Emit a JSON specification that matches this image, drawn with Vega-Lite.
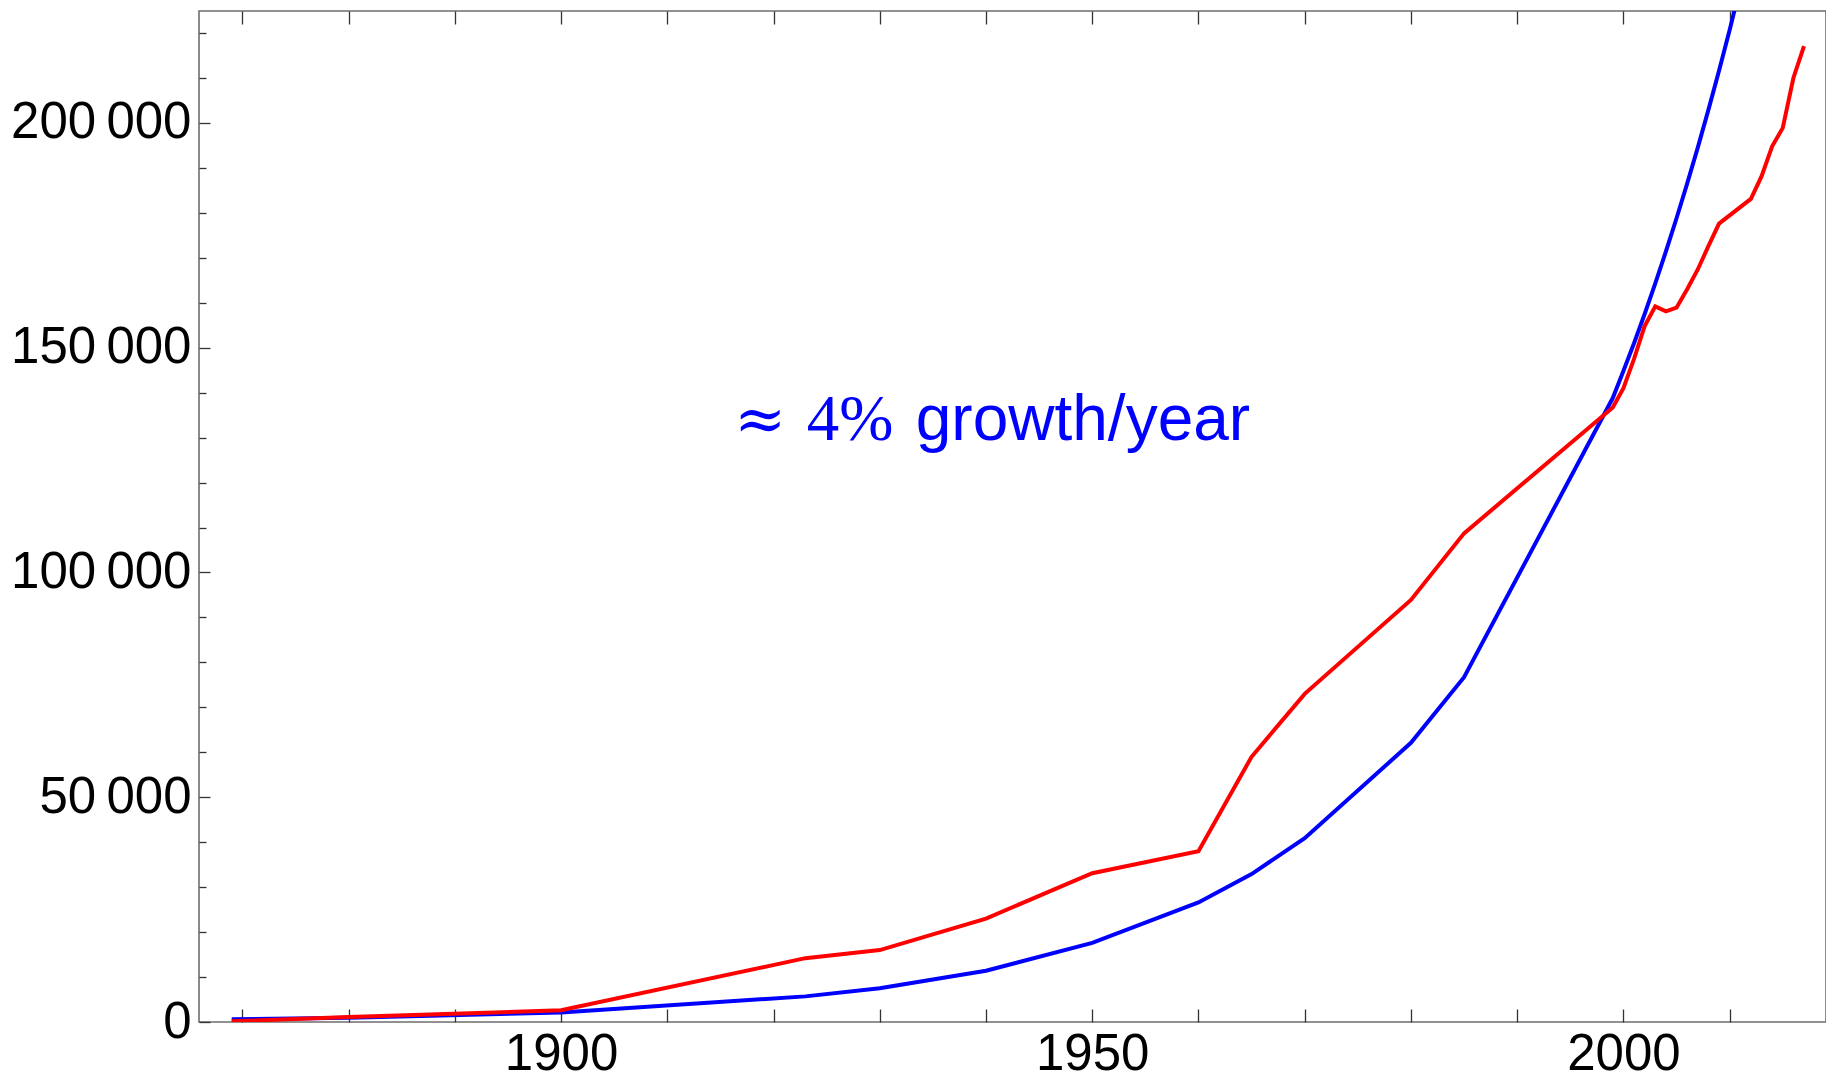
{
  "$schema": "https://vega.github.io/schema/vega-lite/v6.json",
  "width": 1627,
  "height": 1011,
  "autosize": "none",
  "padding": {"left": 199, "top": 11, "right": 0, "bottom": 58},
  "background": "white",
  "config": {
    "view": {"stroke": "#6e6e6e", "strokeWidth": 1.6},
    "axis": {"domain": false, "grid": false, "labelFont": "Liberation Sans", "labelFontSize": 51, "labelColor": "#000000", "labelLimit": 0, "tickColor": "#333333", "tickWidth": 1.3, "title": null}
  },
  "datasets": {
    "fit": [
      {"year": 1869, "value": 600},
      {"year": 1880, "value": 950},
      {"year": 1900, "value": 2100},
      {"year": 1923, "value": 5700},
      {"year": 1930, "value": 7500},
      {"year": 1940, "value": 11400},
      {"year": 1950, "value": 17600},
      {"year": 1960, "value": 26600},
      {"year": 1965, "value": 32900},
      {"year": 1970, "value": 40900},
      {"year": 1980, "value": 62100},
      {"year": 1985, "value": 76700},
      {"year": 1999, "value": 138800},
      {"year": 2000, "value": 144800},
      {"year": 2001, "value": 151000},
      {"year": 2002, "value": 157500},
      {"year": 2003, "value": 164300},
      {"year": 2004, "value": 171400},
      {"year": 2005, "value": 178800},
      {"year": 2006, "value": 186500},
      {"year": 2007, "value": 194500},
      {"year": 2008, "value": 202900},
      {"year": 2009, "value": 211600},
      {"year": 2010, "value": 220700},
      {"year": 2011, "value": 230200}
    ],
    "data": [
      {"year": 1869, "value": 150},
      {"year": 1880, "value": 1100},
      {"year": 1900, "value": 2600},
      {"year": 1923, "value": 14200},
      {"year": 1930, "value": 16000},
      {"year": 1940, "value": 23000},
      {"year": 1950, "value": 33100},
      {"year": 1960, "value": 38000},
      {"year": 1965, "value": 59000},
      {"year": 1970, "value": 73000},
      {"year": 1980, "value": 93900},
      {"year": 1985, "value": 108700},
      {"year": 1999, "value": 136700},
      {"year": 2000, "value": 141000},
      {"year": 2001, "value": 147500},
      {"year": 2002, "value": 154800},
      {"year": 2003, "value": 159200},
      {"year": 2004, "value": 158100},
      {"year": 2005, "value": 158900},
      {"year": 2006, "value": 163000},
      {"year": 2007, "value": 167400},
      {"year": 2008, "value": 172600},
      {"year": 2009, "value": 177600},
      {"year": 2012, "value": 183100},
      {"year": 2013, "value": 188100},
      {"year": 2014, "value": 194800},
      {"year": 2015, "value": 198900},
      {"year": 2016, "value": 210000},
      {"year": 2017, "value": 217100}
    ]
  },
  "resolve": {"axis": {"x": "independent"}},
  "layer": [
    {
      "data": {"name": "fit"},
      "mark": {"type": "line", "color": "#0000ff", "strokeWidth": 4, "clip": true},
      "encoding": {
        "x": {
          "field": "year", "type": "quantitative",
          "scale": {"domain": [1865.92, 2019.07], "nice": false, "zero": false},
          "axis": {"orient": "bottom", "values": [1870, 1880, 1890, 1900, 1910, 1920, 1930, 1940, 1950, 1960, 1970, 1980, 1990, 2000, 2010], "tickSize": -13, "format": "d", "labelExpr": "datum.value % 50 === 0 ? datum.label : ''", "labelPadding": 20, "labelFlush": false, "labelOverlap": false}
        },
        "y": {
          "field": "value", "type": "quantitative",
          "scale": {"domain": [0, 224900], "nice": false},
          "axis": {"values": [0, 10000, 20000, 30000, 40000, 50000, 60000, 70000, 80000, 90000, 100000, 110000, 120000, 130000, 140000, 150000, 160000, 170000, 180000, 190000, 200000, 210000, 220000], "tickSize": {"condition": {"test": "datum.value % 50000 === 0", "value": -11}, "value": -7}, "labelExpr": "datum.value % 50000 === 0 ? replace(format(datum.value, ',d'), ',', '\u202f') : ''", "labelPadding": 19, "labelFlush": false, "labelOverlap": false}
        }
      }
    },
    {
      "data": {"name": "data"},
      "mark": {"type": "line", "color": "#ff0000", "strokeWidth": 4, "clip": true},
      "encoding": {
        "x": {"field": "year", "type": "quantitative", "axis": {"orient": "top", "values": [1870, 1880, 1890, 1900, 1910, 1920, 1930, 1940, 1950, 1960, 1970, 1980, 1990, 2000, 2010], "tickSize": -13, "labels": false}},
        "y": {"field": "value", "type": "quantitative"}
      }
    },
    {
      "data": {"values": [{}]},
      "mark": {"type": "text", "text": "≈", "font": "DejaVu Serif", "fontSize": 62, "color": "#0000ff", "align": "left", "baseline": "alphabetic"},
      "encoding": {
        "x": {"datum": 1916.3, "type": "quantitative", "axis": null},
        "y": {"datum": 129500, "type": "quantitative"}
      }
    },
    {
      "data": {"values": [{}]},
      "mark": {"type": "text", "text": "4%", "font": "Liberation Serif", "fontSize": 65, "color": "#0000ff", "align": "left", "baseline": "alphabetic"},
      "encoding": {
        "x": {"datum": 1923.13, "type": "quantitative", "axis": null},
        "y": {"datum": 129500, "type": "quantitative"}
      }
    },
    {
      "data": {"values": [{}]},
      "mark": {"type": "text", "text": "growth/year", "font": "Liberation Sans", "fontSize": 64, "color": "#0000ff", "align": "left", "baseline": "alphabetic"},
      "encoding": {
        "x": {"datum": 1933.39, "type": "quantitative", "axis": null},
        "y": {"datum": 129500, "type": "quantitative"}
      }
    }
  ]
}
